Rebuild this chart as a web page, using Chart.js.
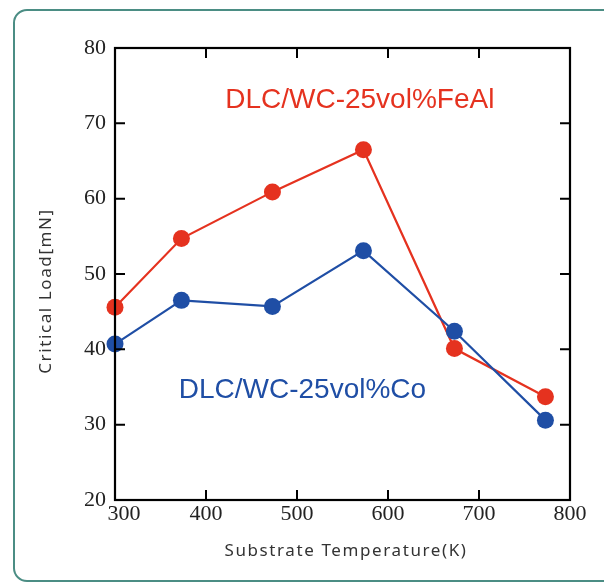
<!DOCTYPE html>
<html>
<head>
<meta charset="utf-8">
<script src="https://cdn.jsdelivr.net/npm/chart.js@4.4.1/dist/chart.umd.min.js"></script>
<style>
  html, body { margin: 0; padding: 0; background: #fff; }
  #wrap { position: relative; width: 604px; height: 584px; overflow: hidden; }
  #frame {
    position: absolute; left: 13px; top: 9px; width: 620px; height: 573px;
    border: 2px solid #4b8d84; border-radius: 14px; box-sizing: border-box;
  }
  #wrap canvas { position: absolute; left: 0; top: 0; }
</style>
</head>
<body>
<div id="wrap">
  <div id="frame"></div>
  <canvas id="myChart" width="604" height="584"></canvas>
</div>
<script>
// Données
const temperatures = [300, 373, 473, 573, 673, 773];
const feAlLoad = [45.6, 54.7, 60.9, 66.5, 40.1, 33.7];
const coLoad = [40.7, 46.5, 45.7, 53.1, 42.4, 30.6];
const xTicks = [300, 400, 500, 600, 700, 800];
const yTicks = [20, 30, 40, 50, 60, 70, 80];

const RED = '#e5321f';
const BLUE = '#1f4ea5';

// Plugin pour le cadre, les graduations internes et les textes
const framePlugin = {
    id: 'framePlugin',
    afterDraw(chart) {
        const ctx = chart.ctx;
        const area = chart.chartArea;
        const x = chart.scales.x;
        const y = chart.scales.y;
        ctx.save();

        // graduations vers l'intérieur
        ctx.strokeStyle = '#000';
        ctx.lineWidth = 2;
        ctx.beginPath();
        xTicks.forEach(v => {
            const px = x.getPixelForValue(v);
            ctx.moveTo(px, area.bottom); ctx.lineTo(px, area.bottom - 10);
            ctx.moveTo(px, area.top); ctx.lineTo(px, area.top + 10);
        });
        yTicks.forEach(v => {
            const py = y.getPixelForValue(v);
            ctx.moveTo(area.left, py); ctx.lineTo(area.left + 10, py);
            ctx.moveTo(area.right, py); ctx.lineTo(area.right - 10, py);
        });
        ctx.stroke();

        // cadre
        ctx.lineWidth = 2.2;
        ctx.strokeRect(area.left, area.top, area.right - area.left, area.bottom - area.top);

        // étiquettes des axes
        ctx.fillStyle = '#222';
        ctx.font = '22px "Liberation Serif", "Times New Roman", serif';
        ctx.textAlign = 'center';
        ctx.textBaseline = 'top';
        xTicks.forEach(v => {
            let px = x.getPixelForValue(v);
            if (v === 300) px += 9;
            ctx.fillText(String(v), px, area.bottom + 3);
        });
        ctx.textAlign = 'right';
        ctx.textBaseline = 'middle';
        yTicks.forEach(v => {
            ctx.fillText(String(v), area.left - 9, y.getPixelForValue(v));
        });

        // titres des axes
        ctx.fillStyle = '#333';
        ctx.font = '17px "Noto Sans", "DejaVu Sans", sans-serif';
        if ('letterSpacing' in ctx) ctx.letterSpacing = '1.6px';
        ctx.textAlign = 'center';
        ctx.textBaseline = 'middle';
        ctx.fillText('Substrate Temperature(K)', 346, 551);
        ctx.save();
        ctx.translate(46, 291);
        ctx.rotate(-Math.PI / 2);
        ctx.fillText('Critical Load[mN]', 0, 0);
        ctx.restore();
        if ('letterSpacing' in ctx) ctx.letterSpacing = '0px';

        // légendes dans le graphique
        ctx.font = '28px "Liberation Sans", Arial, sans-serif';
        ctx.fillStyle = RED;
        ctx.fillText('DLC/WC-25vol%FeAl', x.getPixelForValue(569), y.getPixelForValue(73));
        ctx.fillStyle = BLUE;
        ctx.fillText('DLC/WC-25vol%Co', x.getPixelForValue(506), y.getPixelForValue(34.6));

        ctx.restore();
    }
};

const ctx = document.getElementById('myChart').getContext('2d');
new Chart(ctx, {
    type: 'line',
    data: {
        datasets: [
            {
                label: 'DLC/WC-25vol%Co',
                data: temperatures.map((t, i) => ({ x: t, y: coLoad[i] })),
                borderColor: BLUE,
                backgroundColor: BLUE,
                borderWidth: 2.2,
                pointRadius: 8.5,
                pointBorderWidth: 0,
                tension: 0
            },
            {
                label: 'DLC/WC-25vol%FeAl',
                data: temperatures.map((t, i) => ({ x: t, y: feAlLoad[i] })),
                borderColor: RED,
                backgroundColor: RED,
                borderWidth: 2.2,
                pointRadius: 8.5,
                pointBorderWidth: 0,
                tension: 0
            }
        ]
    },
    options: {
        responsive: false,
        animation: false,
        clip: false,
        layout: { padding: { top: 48, right: 34, left: 0, bottom: 0 } },
        plugins: {
            legend: { display: false },
            tooltip: { enabled: false }
        },
        scales: {
            x: {
                type: 'linear',
                min: 300,
                max: 800,
                grid: { display: false },
                border: { display: false },
                ticks: { display: false },
                afterFit: s => { s.height = 84; }
            },
            y: {
                min: 20,
                max: 80,
                grid: { display: false },
                border: { display: false },
                ticks: { display: false },
                afterFit: s => { s.width = 115; }
            }
        }
    },
    plugins: [framePlugin]
});
</script>
</body>
</html>
